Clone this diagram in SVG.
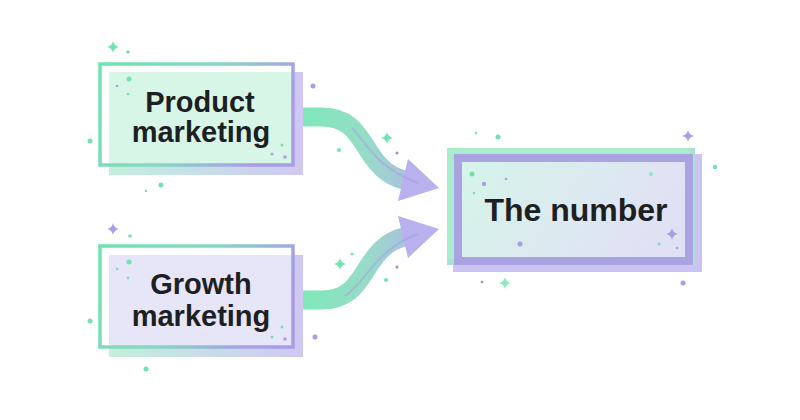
<svg xmlns="http://www.w3.org/2000/svg" xmlns:xlink="http://www.w3.org/1999/xlink" width="800" height="420" viewBox="0 0 800 420">
<defs>
<style>
.lbl{font-family:"Liberation Sans",Arial,sans-serif;font-weight:700;fill:#1d2023;text-anchor:middle}
.g{fill:#6fe3b0}
.p{fill:#a99de6}
.pd{fill:#9a94b8}
</style>
<linearGradient id="frameG" x1="0" y1="0" x2="1" y2="0.3">
<stop offset="0" stop-color="#6fe3ae"/>
<stop offset="0.55" stop-color="#86d8c4"/>
<stop offset="1" stop-color="#a99ce6"/>
</linearGradient>
<linearGradient id="shadowG" x1="0" y1="0" x2="1" y2="0">
<stop offset="0" stop-color="#c4efdb"/>
<stop offset="0.6" stop-color="#c9d9eb"/>
<stop offset="1" stop-color="#d0c8f3"/>
</linearGradient>
<linearGradient id="numFill" x1="0" y1="0" x2="1" y2="0.3">
<stop offset="0" stop-color="#d5f5e9"/>
<stop offset="1" stop-color="#e1e1f5"/>
</linearGradient>
<linearGradient id="arrG" gradientUnits="userSpaceOnUse" x1="303" y1="0" x2="440" y2="0">
<stop offset="0" stop-color="#7ee8b9"/>
<stop offset="0.45" stop-color="#96dcc8"/>
<stop offset="1" stop-color="#b8aeee"/>
</linearGradient>
<path id="star" d="M0,-6 Q1,-1 6,0 Q1,1 0,6 Q-1,1 -6,0 Q-1,-1 0,-6Z"/>
</defs>
<rect width="800" height="420" fill="#ffffff"/>

<g id="connectors">
<path d="M303,117 H322 C350,117 358,135 368,150 C378,166 388,176 404,180" fill="none" stroke="url(#arrG)" stroke-width="19"/>
<polygon points="439,188 408,159 398,201" fill="#b9b0ee"/>
<path d="M352,128 C366,142 376,168 418,183" fill="none" stroke="#a298e0" stroke-width="2" opacity="0.45"/>
<path d="M303,300 H322 C350,300 358,282 368,267 C378,251 388,241 404,237" fill="none" stroke="url(#arrG)" stroke-width="19"/>
<polygon points="439,229 408,258 398,216" fill="#b9b0ee"/>
<path d="M345,296 C366,282 376,249 418,234" fill="none" stroke="#a298e0" stroke-width="2" opacity="0.45"/>
</g>

<g id="node-product">
<rect x="109" y="72" width="194" height="103" fill="url(#shadowG)"/>
<rect x="109" y="72" width="183" height="92" fill="#d7f6e8"/>
<rect x="100" y="64" width="193" height="101" fill="none" stroke="url(#frameG)" stroke-width="3.5"/>
<text class="lbl" x="200" y="112" font-size="29">Product</text>
<text class="lbl" x="201" y="142" font-size="29">marketing</text>
</g>

<g id="node-growth">
<rect x="109" y="255" width="194" height="102" fill="url(#shadowG)"/>
<rect x="109" y="255" width="183" height="91" fill="#e7e5f8"/>
<rect x="100" y="246" width="193" height="101" fill="none" stroke="url(#frameG)" stroke-width="3.5"/>
<text class="lbl" x="201" y="294" font-size="29">Growth</text>
<text class="lbl" x="201" y="326" font-size="29">marketing</text>
</g>

<g id="node-number">
<rect x="453" y="154" width="249" height="118" fill="#cbc4f3"/>
<rect x="447" y="148" width="248" height="117" fill="#addfd6"/>
<rect x="447" y="148" width="242" height="111" fill="#abebcf"/>
<rect x="458" y="158" width="231" height="103" fill="url(#numFill)" stroke="#aaa3e1" stroke-width="8"/>
<text class="lbl" x="576" y="221" font-size="32">The number</text>
</g>

<g id="sparkles">
<use xlink:href="#star" x="113" y="47" class="g"/>
<circle cx="128" cy="52" r="1.8" class="g"/>
<circle cx="313" cy="86" r="2.5" class="p"/>
<circle cx="129" cy="79" r="2.5" class="g"/>
<circle cx="117" cy="86" r="1.3" class="p"/>
<circle cx="128" cy="94" r="1.3" class="g"/>
<circle cx="90" cy="141" r="2.5" class="g"/>
<circle cx="282" cy="145" r="1.5" class="g"/>
<circle cx="272" cy="154" r="1.5" class="p"/>
<circle cx="285" cy="157" r="1.8" class="p"/>
<circle cx="161" cy="185" r="2.5" class="g"/>
<circle cx="146" cy="191" r="1.2" class="g"/>
<use xlink:href="#star" x="387" y="138" class="g"/>
<circle cx="397" cy="153" r="1.5" class="pd"/>
<circle cx="339" cy="150" r="2" class="g"/>
<use xlink:href="#star" x="340" y="264" class="g"/>
<circle cx="352" cy="254" r="1.5" class="g"/>
<circle cx="397" cy="267" r="1.5" class="pd"/>
<circle cx="386" cy="280" r="2" class="g"/>
<use xlink:href="#star" x="113" y="229" class="p"/>
<circle cx="130" cy="236" r="1.8" class="g"/>
<circle cx="129" cy="262" r="2.5" class="g"/>
<circle cx="117" cy="269" r="1.3" class="g"/>
<circle cx="128" cy="278" r="1.3" class="g"/>
<circle cx="90" cy="321" r="2.5" class="g"/>
<circle cx="282" cy="327" r="1.5" class="g"/>
<circle cx="272" cy="337" r="1.5" class="g"/>
<circle cx="285" cy="339" r="1.8" class="p"/>
<circle cx="315" cy="337" r="2.5" class="p"/>
<circle cx="146" cy="369" r="2.5" class="g"/>
<circle cx="476" cy="133" r="1.3" class="g"/>
<circle cx="498" cy="137" r="2.5" class="g"/>
<use xlink:href="#star" x="688" y="136" class="p"/>
<circle cx="715" cy="167" r="2.2" class="g"/>
<circle cx="472" cy="174" r="2.5" class="g"/>
<circle cx="484" cy="184" r="2.2" class="p"/>
<circle cx="506" cy="179" r="1.3" class="p"/>
<circle cx="474" cy="193" r="1.3" class="g"/>
<circle cx="651" cy="174" r="2.2" class="g" opacity="0.6"/>
<circle cx="520" cy="244" r="2.5" class="p"/>
<use xlink:href="#star" x="672" y="234" class="p"/>
<circle cx="659" cy="244" r="1.5" class="g"/>
<circle cx="677" cy="248" r="1.3" class="p"/>
<circle cx="482" cy="282" r="1.3" class="pd"/>
<use xlink:href="#star" x="505" y="283" class="g" opacity="0.8"/>
<circle cx="683" cy="283" r="2.5" class="p"/>
</g>
</svg>
